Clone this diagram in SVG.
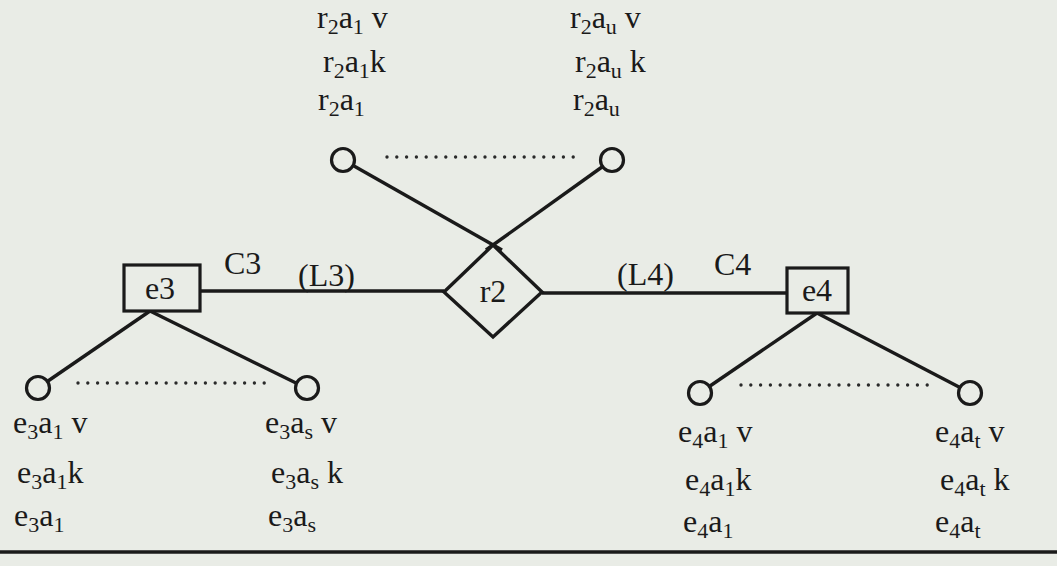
<svg xmlns="http://www.w3.org/2000/svg" width="1057" height="566" viewBox="0 0 1057 566">
<style>
.t{font-family:"Liberation Serif","Times New Roman",serif;font-size:32px;fill:#1a1a1a}
.s{font-size:22px}
.ln{stroke:#1a1a1a;stroke-width:3.4;fill:none}
.dot{stroke:#2a2a2a;stroke-width:3.4;stroke-linecap:round;stroke-dasharray:0 9.8;fill:none}
.c{stroke:#1a1a1a;stroke-width:3.2;fill:#e9ece6}
</style>
<rect width="1057" height="566" fill="#e9ece6"/>
<g id="connectors">
<line class="ln" x1="200" y1="291" x2="444" y2="291"/>
<line class="ln" x1="542" y1="293" x2="787" y2="293"/>
<line class="ln" x1="354" y1="166" x2="502" y2="250"/>
<line class="ln" x1="602" y1="167" x2="486" y2="250"/>
<line class="ln" x1="150" y1="311" x2="48" y2="381"/>
<line class="ln" x1="150" y1="311" x2="296" y2="383"/>
<line class="ln" x1="817" y1="313" x2="710" y2="386"/>
<line class="ln" x1="817" y1="313" x2="959" y2="387"/>
<line class="dot" x1="387" y1="157" x2="576" y2="157"/>
<line class="dot" x1="78" y1="383" x2="270" y2="383"/>
<line class="dot" x1="741" y1="385" x2="933" y2="385"/>
<text class="t" x="224" y="274">C3</text>
<text class="t" x="298" y="286">(L3)</text>
<text class="t" x="617" y="285">(L4)</text>
<text class="t" x="714" y="275">C4</text>
</g>
<g id="r2">
<polygon points="493,245 542,292 493,337 444,292" fill="#e9ece6" stroke="#1a1a1a" stroke-width="3.4"/>
<text class="t" x="493" y="302" text-anchor="middle">r2</text>
</g>
<g id="e3">
<rect x="124" y="265" width="76" height="46" fill="#e9ece6" stroke="#1a1a1a" stroke-width="3.2"/>
<text class="t" x="160" y="299" text-anchor="middle">e3</text>
</g>
<g id="e4">
<rect x="787" y="268" width="61" height="45" fill="#e9ece6" stroke="#1a1a1a" stroke-width="3.2"/>
<text class="t" x="817" y="301" text-anchor="middle">e4</text>
</g>
<g id="r2a1">
<circle class="c" cx="343" cy="160" r="11.5"/>
<text class="t" x="317" y="28">r<tspan class="s" dy="6">2</tspan><tspan dy="-6">a</tspan><tspan class="s" dy="6">1</tspan><tspan dy="-6"> v</tspan></text>
<text class="t" x="323" y="72">r<tspan class="s" dy="6">2</tspan><tspan dy="-6">a</tspan><tspan class="s" dy="6">1</tspan><tspan dy="-6">k</tspan></text>
<text class="t" x="318" y="110">r<tspan class="s" dy="6">2</tspan><tspan dy="-6">a</tspan><tspan class="s" dy="6">1</tspan></text>
</g>
<g id="r2au">
<circle class="c" cx="612" cy="160" r="11.5"/>
<text class="t" x="570" y="28">r<tspan class="s" dy="6">2</tspan><tspan dy="-6">a</tspan><tspan class="s" dy="6">u</tspan><tspan dy="-6"> v</tspan></text>
<text class="t" x="575" y="72">r<tspan class="s" dy="6">2</tspan><tspan dy="-6">a</tspan><tspan class="s" dy="6">u</tspan><tspan dy="-6"> k</tspan></text>
<text class="t" x="573" y="110">r<tspan class="s" dy="6">2</tspan><tspan dy="-6">a</tspan><tspan class="s" dy="6">u</tspan></text>
</g>
<g id="e3a1">
<circle class="c" cx="38" cy="388" r="11.5"/>
<text class="t" x="13" y="433">e<tspan class="s" dy="6">3</tspan><tspan dy="-6">a</tspan><tspan class="s" dy="6">1</tspan><tspan dy="-6"> v</tspan></text>
<text class="t" x="17" y="483">e<tspan class="s" dy="6">3</tspan><tspan dy="-6">a</tspan><tspan class="s" dy="6">1</tspan><tspan dy="-6">k</tspan></text>
<text class="t" x="14" y="526">e<tspan class="s" dy="6">3</tspan><tspan dy="-6">a</tspan><tspan class="s" dy="6">1</tspan></text>
</g>
<g id="e3as">
<circle class="c" cx="307" cy="388" r="11.5"/>
<text class="t" x="265" y="433">e<tspan class="s" dy="6">3</tspan><tspan dy="-6">a</tspan><tspan class="s" dy="6">s</tspan><tspan dy="-6"> v</tspan></text>
<text class="t" x="271" y="483">e<tspan class="s" dy="6">3</tspan><tspan dy="-6">a</tspan><tspan class="s" dy="6">s</tspan><tspan dy="-6"> k</tspan></text>
<text class="t" x="268" y="526">e<tspan class="s" dy="6">3</tspan><tspan dy="-6">a</tspan><tspan class="s" dy="6">s</tspan></text>
</g>
<g id="e4a1">
<circle class="c" cx="700" cy="393" r="11.5"/>
<text class="t" x="678" y="442">e<tspan class="s" dy="6">4</tspan><tspan dy="-6">a</tspan><tspan class="s" dy="6">1</tspan><tspan dy="-6"> v</tspan></text>
<text class="t" x="685" y="490">e<tspan class="s" dy="6">4</tspan><tspan dy="-6">a</tspan><tspan class="s" dy="6">1</tspan><tspan dy="-6">k</tspan></text>
<text class="t" x="683" y="532">e<tspan class="s" dy="6">4</tspan><tspan dy="-6">a</tspan><tspan class="s" dy="6">1</tspan></text>
</g>
<g id="e4at">
<circle class="c" cx="970" cy="393" r="11.5"/>
<text class="t" x="935" y="442">e<tspan class="s" dy="6">4</tspan><tspan dy="-6">a</tspan><tspan class="s" dy="6">t</tspan><tspan dy="-6"> v</tspan></text>
<text class="t" x="940" y="490">e<tspan class="s" dy="6">4</tspan><tspan dy="-6">a</tspan><tspan class="s" dy="6">t</tspan><tspan dy="-6"> k</tspan></text>
<text class="t" x="935" y="532">e<tspan class="s" dy="6">4</tspan><tspan dy="-6">a</tspan><tspan class="s" dy="6">t</tspan></text>
</g>
<line x1="0" y1="552" x2="1057" y2="552" stroke="#1a1a1a" stroke-width="3.5"/>
</svg>
